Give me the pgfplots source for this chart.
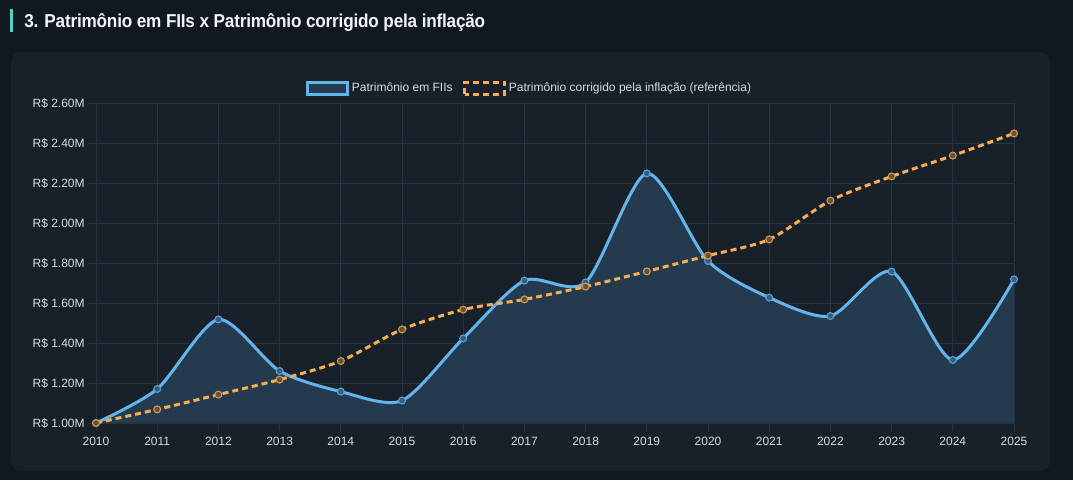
\documentclass[border=0pt]{standalone}
\usepackage{pgfplots}
\pgfplotsset{compat=1.18}
\usepackage{fontspec}
\setmainfont{Liberation Sans}
\definecolor{pagebg}{HTML}{111820}
\definecolor{panelbg}{HTML}{18212A}
\definecolor{gridc}{HTML}{28333E}
\definecolor{ticktext}{HTML}{D5DBE1}
\definecolor{titletext}{HTML}{F2F5F8}
\definecolor{teal}{HTML}{4FD1C5}
\definecolor{lineblue}{HTML}{63B3ED}
\definecolor{fillblue}{HTML}{243A4F}
\definecolor{orange}{HTML}{F6AD55}
\begin{document}
\begin{tikzpicture}
\begin{scope}[x=0.75pt,y=0.75pt]
\fill[pagebg] (0,0) rectangle (1073,480);
\fill[panelbg, rounded corners=7.5pt] (11,9) rectangle (1050,428);
\fill[teal] (10,448) rectangle (13,471);
\node[anchor=base west, text=titletext, inner sep=0pt] at (24,452.7) {\scalebox{0.92}[1]{\fontsize{14pt}{17pt}\selectfont\bfseries\addfontfeature{LetterSpace=-1.2}3. Patrimônio em FIIs x Patrimônio corrigido pela inflação}};
\end{scope}
\begin{axis}[
  at={(72pt,42.75pt)}, anchor=south west,
  width=688.5pt, height=240pt, scale only axis,
  xmin=2010, xmax=2025, ymin=1, ymax=2.6,
  xtick={2010,2011,...,2025},
  xticklabels={2010,2011,2012,2013,2014,2015,2016,2017,2018,2019,2020,2021,2022,2023,2024,2025},
  ytick={1,1.2,1.4,1.6,1.8,2.0,2.2,2.4,2.6},
  yticklabels={R\$ 1.00M,R\$ 1.20M,R\$ 1.40M,R\$ 1.60M,R\$ 1.80M,R\$ 2.00M,R\$ 2.20M,R\$ 2.40M,R\$ 2.60M},
  grid=major,
  grid style={gridc, line width=0.75pt},
  axis line style={draw=none},
  tick style={gridc, line width=0.75pt},
  major tick length=6pt,
  tick align=outside,
  xtick pos=bottom, ytick pos=left,
  ticklabel style={text=ticktext, font=\fontsize{9pt}{11pt}\selectfont},
  yticklabel style={xshift=1pt},
  xticklabel style={yshift=-1pt},
  legend columns=2,
  legend style={at={(0.4728,1)}, anchor=south, yshift=3pt, draw=none, fill=none,
    text=ticktext, font=\fontsize{9pt}{11pt}\selectfont,
    /tikz/every even column/.append style={column sep=6pt}},
  legend cell align=left,
]
\addplot[draw=none, fill=fillblue, smooth, tension=0.45, forget plot] coordinates {
(2010,1.000) (2011,1.170) (2012,1.518) (2013,1.260) (2014,1.157) (2015,1.112)
(2016,1.423) (2017,1.712) (2018,1.703) (2019,2.248) (2020,1.810) (2021,1.627)
(2022,1.535) (2023,1.757) (2024,1.315) (2025,1.718)
} \closedcycle;
\addplot[lineblue, line width=2.25pt, smooth, tension=0.45,
  mark=*, mark size=2.6pt, mark options={solid, line width=0.8pt, draw=lineblue!85!fillblue, fill=fillblue!70!lineblue},
  legend image code/.code={\draw[draw=lineblue, fill=fillblue, line width=2.25pt] (0pt,-4.5pt) rectangle (30pt,4.5pt);}
] coordinates {
(2010,1.000) (2011,1.170) (2012,1.518) (2013,1.260) (2014,1.157) (2015,1.112)
(2016,1.423) (2017,1.712) (2018,1.703) (2019,2.248) (2020,1.810) (2021,1.627)
(2022,1.535) (2023,1.757) (2024,1.315) (2025,1.718)
};
\addlegendentry{Patrimônio em FIIs}
\addplot[orange, line width=2.25pt, smooth, tension=0.45, dash pattern=on 4.5pt off 3pt,
  mark=*, mark size=2.6pt, mark options={solid, line width=0.8pt, draw=orange!85!panelbg, fill=orange!35!panelbg},
  legend image code/.code={\draw[draw=orange, line width=2.25pt, dash pattern=on 4.5pt off 3pt] (0pt,-4.5pt) rectangle (30pt,4.5pt);}
] coordinates {
(2010,1.000) (2011,1.068) (2012,1.142) (2013,1.217) (2014,1.310) (2015,1.468)
(2016,1.567) (2017,1.618) (2018,1.682) (2019,1.758) (2020,1.837) (2021,1.918)
(2022,2.112) (2023,2.233) (2024,2.337) (2025,2.448)
};
\addlegendentry{Patrimônio corrigido pela inflação (referência)}
\end{axis}
\end{tikzpicture}
\end{document}
